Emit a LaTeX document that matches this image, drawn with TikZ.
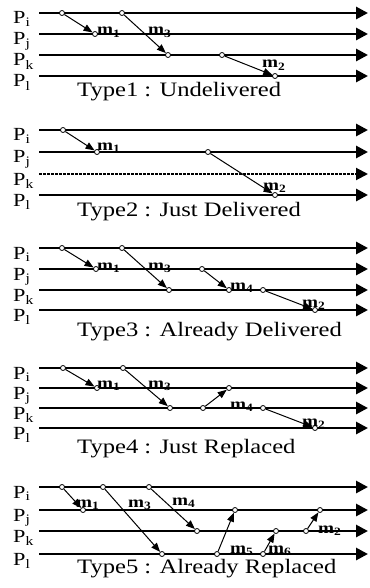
\documentclass[tikz,border=0pt]{standalone}
\usepackage{fontspec}
\setmainfont{Liberation Serif}
\newfontfamily\widefont{Liberation Serif}[FakeStretch=1.2]
\usetikzlibrary{arrows.meta}

\begin{document}
\begin{tikzpicture}[x=1pt, y=-1pt,
  proc/.style={line width=2.8pt, -{Triangle[length=12pt, width=12pt]}},
  msg/.style={line width=1pt, -{Triangle[length=9pt, width=7pt]}},
  ev/.style={circle, draw, fill=white, line width=0.8pt, inner sep=0pt, minimum size=5pt},
  plbl/.style={anchor=base west, inner sep=0pt, font=\widefont\fontsize{18.5}{18}\selectfont},
  mlbl/.style={anchor=base west, inner sep=0pt, font=\widefont\bfseries\fontsize{16}{16}\selectfont},
  typecap/.style={anchor=base west, inner sep=0pt, font=\widefont\fontsize{20.5}{20}\selectfont}
]
\useasboundingbox (0,0) rectangle (369,588);

% Type1
\foreach \p/\y in {i/13, j/34, k/55, l/76} {
  \coordinate (a-s\p) at (39,\y);
  \coordinate (a-e\p) at (368,\y);
  \draw[proc] (a-s\p) -- (a-e\p);
  \node[plbl] (a-P\p) at (13,\y+11) {P\textsubscript{\p}};
}
\node[ev] (a1) at (62,13) {};
\node[ev] (a2) at (122,13) {};
\node[ev] (a3) at (95,34) {};
\node[ev] (a4) at (168,55) {};
\node[ev] (a5) at (222,55) {};
\node[ev] (a6) at (275,76) {};
\draw[msg] (a1) -- (a3);
\draw[msg] (a2) -- (a4);
\draw[msg] (a5) -- (a6);
\node[mlbl] (a-m1) at (97,35) {m\textsubscript{1}};
\node[mlbl] (a-m3) at (148,35) {m\textsubscript{3}};
\node[mlbl] (a-m2) at (262,68) {m\textsubscript{2}};
\node[typecap] (a-cap) at (77,97) {Type1 : Undelivered};

% Type2
\foreach \p/\y in {i/130, j/152, l/195} {
  \coordinate (b-s\p) at (39,\y);
  \coordinate (b-e\p) at (368,\y);
  \draw[proc] (b-s\p) -- (b-e\p);
  \node[plbl] (b-P\p) at (13,\y+11) {P\textsubscript{\p}};
}
\coordinate (b-sk) at (39,174);
\coordinate (b-ek) at (368,174);
\draw[proc, line width=2pt, dash pattern=on 2.5pt off 1.5pt] (b-sk) -- (b-ek);
\node[plbl] (b-Pk) at (13,185) {P\textsubscript{k}};
\node[ev] (b1) at (63,130) {};
\node[ev] (b2) at (97,152) {};
\node[ev] (b3) at (208,152) {};
\node[ev] (b4) at (275,195) {};
\draw[msg] (b1) -- (b2);
\draw[msg] (b3) -- (b4);
\node[mlbl] (b-m1) at (97,150) {m\textsubscript{1}};
\node[mlbl] (b-m2) at (263,190) {m\textsubscript{2}};
\node[typecap] (b-cap) at (77,216) {Type2 : Just Delivered};

% Type3
\foreach \p/\y in {i/248, j/269, k/290, l/310} {
  \coordinate (c-s\p) at (39,\y);
  \coordinate (c-e\p) at (368,\y);
  \draw[proc] (c-s\p) -- (c-e\p);
  \node[plbl] (c-P\p) at (13,\y+11) {P\textsubscript{\p}};
}
\node[ev] (c1) at (62,248) {};
\node[ev] (c2) at (122,248) {};
\node[ev] (c3) at (96,269) {};
\node[ev] (c4) at (169,290) {};
\node[ev] (c5) at (202,269) {};
\node[ev] (c6) at (229,290) {};
\node[ev] (c7) at (263,290) {};
\node[ev] (c8) at (315,310) {};
\draw[msg] (c1) -- (c3);
\draw[msg] (c2) -- (c4);
\draw[msg] (c5) -- (c6);
\draw[msg] (c7) -- (c8);
\node[mlbl] (c-m1) at (97,270) {m\textsubscript{1}};
\node[mlbl] (c-m3) at (148,270) {m\textsubscript{3}};
\node[mlbl] (c-m4) at (230,290) {m\textsubscript{4}};
\node[mlbl] (c-m2) at (302,307) {m\textsubscript{2}};
\node[typecap] (c-cap) at (77,336) {Type3 : Already Delivered};

% Type4
\foreach \p/\y in {i/368, j/388, k/408, l/428} {
  \coordinate (d-s\p) at (39,\y);
  \coordinate (d-e\p) at (368,\y);
  \draw[proc] (d-s\p) -- (d-e\p);
  \node[plbl] (d-P\p) at (13,\y+11) {P\textsubscript{\p}};
}
\node[ev] (d1) at (63,368) {};
\node[ev] (d2) at (123,368) {};
\node[ev] (d3) at (97,388) {};
\node[ev] (d4) at (170,408) {};
\node[ev] (d5) at (203,408) {};
\node[ev] (d6) at (229,388) {};
\node[ev] (d7) at (263,408) {};
\node[ev] (d8) at (315,428) {};
\draw[msg] (d1) -- (d3);
\draw[msg] (d2) -- (d4);
\draw[msg] (d5) -- (d6);
\draw[msg] (d7) -- (d8);
\node[mlbl] (d-m1) at (97,388) {m\textsubscript{1}};
\node[mlbl] (d-m3) at (148,388) {m\textsubscript{3}};
\node[mlbl] (d-m4) at (230,409) {m\textsubscript{4}};
\node[mlbl] (d-m2) at (302,426) {m\textsubscript{2}};
\node[typecap] (d-cap) at (77,453) {Type4 : Just Replaced};

% Type5
\foreach \p/\y in {i/487, j/510, k/531, l/554} {
  \coordinate (e-s\p) at (39,\y);
  \coordinate (e-e\p) at (368,\y);
  \draw[proc] (e-s\p) -- (e-e\p);
  \node[plbl] (e-P\p) at (13,\y+11) {P\textsubscript{\p}};
}
\node[ev] (e1) at (62,487) {};
\node[ev] (e2) at (103,487) {};
\node[ev] (e3) at (149,487) {};
\node[ev] (e4) at (83,510) {};
\node[ev] (e5) at (162,554) {};
\node[ev] (e6) at (197,531) {};
\node[ev] (e7) at (217,554) {};
\node[ev] (e8) at (235,510) {};
\node[ev] (e9) at (263,554) {};
\node[ev] (e10) at (276,531) {};
\node[ev] (e11) at (306,531) {};
\node[ev] (e12) at (320,510) {};
\draw[msg] (e1) -- (e4);
\draw[msg] (e2) -- (e5);
\draw[msg] (e3) -- (e6);
\draw[msg] (e7) -- (e8);
\draw[msg] (e9) -- (e10);
\draw[msg] (e11) -- (e12);
\node[mlbl] (e-m1) at (76,507) {m\textsubscript{1}};
\node[mlbl] (e-m3) at (128,507) {m\textsubscript{3}};
\node[mlbl] (e-m4) at (172,505) {m\textsubscript{4}};
\node[mlbl] (e-m5) at (230,553) {m\textsubscript{5}};
\node[mlbl] (e-m6) at (268,553) {m\textsubscript{6}};
\node[mlbl] (e-m2) at (318,533) {m\textsubscript{2}};
\node[typecap] (e-cap) at (77,573) {Type5 : Already Replaced};
\end{tikzpicture}
\end{document}
